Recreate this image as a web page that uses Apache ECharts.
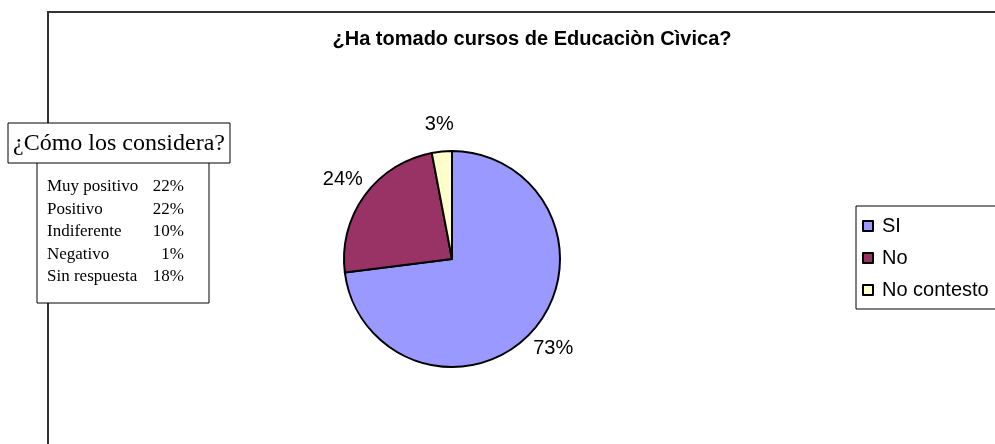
<!DOCTYPE html>
<html><head><meta charset="utf-8">
<script src="https://cdn.jsdelivr.net/npm/echarts@6/dist/echarts.min.js"></script>
<style>html,body{margin:0;padding:0;background:#fff}#c{width:995px;height:444px}</style>
</head><body><div id="c"></div>
<script>
const title = '¿Ha tomado cursos de Educaciòn Cìvica?';
const categories = ['SI', 'No', 'No contesto'];
const values = [73, 24, 3];
const colors = ['#9999FF', '#993366', '#FFFFCC'];
const boxTitle = '¿Cómo los considera?';
const boxLabels = ['Muy positivo', 'Positivo', 'Indiferente', 'Negativo', 'Sin respuesta'];
const boxValues = ['22%', '22%', '10%', '1%', '18%'];

const chart = echarts.init(document.getElementById('c'), null, {renderer: 'canvas'});
const serif = '"Liberation Serif", "DejaVu Serif", serif';
const sans = '"Liberation Sans", Arial, sans-serif';

const graphics = [
  {type: 'polyline', z: 1, shape: {points: [[48, 460], [48, 12], [1000, 12]]},
   style: {stroke: '#333', lineWidth: 2, fill: null}},
  {type: 'rect', z: 5, shape: {x: 37, y: 160, width: 172, height: 143},
   style: {fill: '#fff', stroke: '#000', lineWidth: 1}},
  {type: 'rect', z: 6, shape: {x: 8, y: 123, width: 222, height: 40},
   style: {fill: '#fff', stroke: '#000', lineWidth: 1}},
  {type: 'text', z: 7, style: {x: 119, y: 144, text: boxTitle, font: '24px ' + serif,
   fill: '#000', textAlign: 'center', textVerticalAlign: 'middle'}}
];
boxLabels.forEach((l, i) => {
  graphics.push({type: 'text', z: 7, style: {x: 47, y: 187 + i * 22.5, text: l,
    font: '17px ' + serif, fill: '#000', textAlign: 'left', textVerticalAlign: 'middle'}});
  graphics.push({type: 'text', z: 7, style: {x: 184, y: 187 + i * 22.5, text: boxValues[i],
    font: '17px ' + serif, fill: '#000', textAlign: 'right', textVerticalAlign: 'middle'}});
});

chart.setOption({
  animation: false,
  backgroundColor: '#fff',
  title: {text: title, left: 527, top: 24, textAlign: 'center',
    textStyle: {fontFamily: sans, fontSize: 20, fontWeight: 'bold', color: '#000'}},
  legend: {
    orient: 'vertical', left: 856, top: 206,
    padding: [10, 40, 9, 6],
    backgroundColor: '#fff', borderColor: '#000', borderWidth: 1,
    itemWidth: 10, itemHeight: 10, itemGap: 12,
    icon: 'rect',
    itemStyle: {borderColor: '#000', borderWidth: 2},
    textStyle: {fontFamily: sans, fontSize: 20, color: '#000', lineHeight: 20, padding: [0, 0, 0, 4]},
    data: categories
  },
  graphic: graphics,
  series: [{
    type: 'pie',
    center: [452, 259],
    radius: [0, 108],
    startAngle: 90,
    clockwise: true,
    z: 3,
    data: categories.map((c, i) => ({name: c, value: values[i], itemStyle: {color: colors[i]}})),
    itemStyle: {borderColor: '#000', borderWidth: 2},
    label: {show: false},
    labelLine: {show: false},
    emphasis: {disabled: true}
  }, {
    type: 'pie',
    silent: true,
    center: [452, 259],
    radius: [0, 264],
    startAngle: 90,
    clockwise: true,
    z: 0,
    data: categories.map((c, i) => ({name: c, value: values[i]})),
    itemStyle: {opacity: 0, borderWidth: 0},
    label: {show: true, position: 'inside', formatter: p => p.value + '%',
      fontFamily: sans, fontSize: 20, color: '#000', opacity: 1},
    labelLine: {show: false},
    emphasis: {disabled: true}
  }]
});
</script></body></html>
